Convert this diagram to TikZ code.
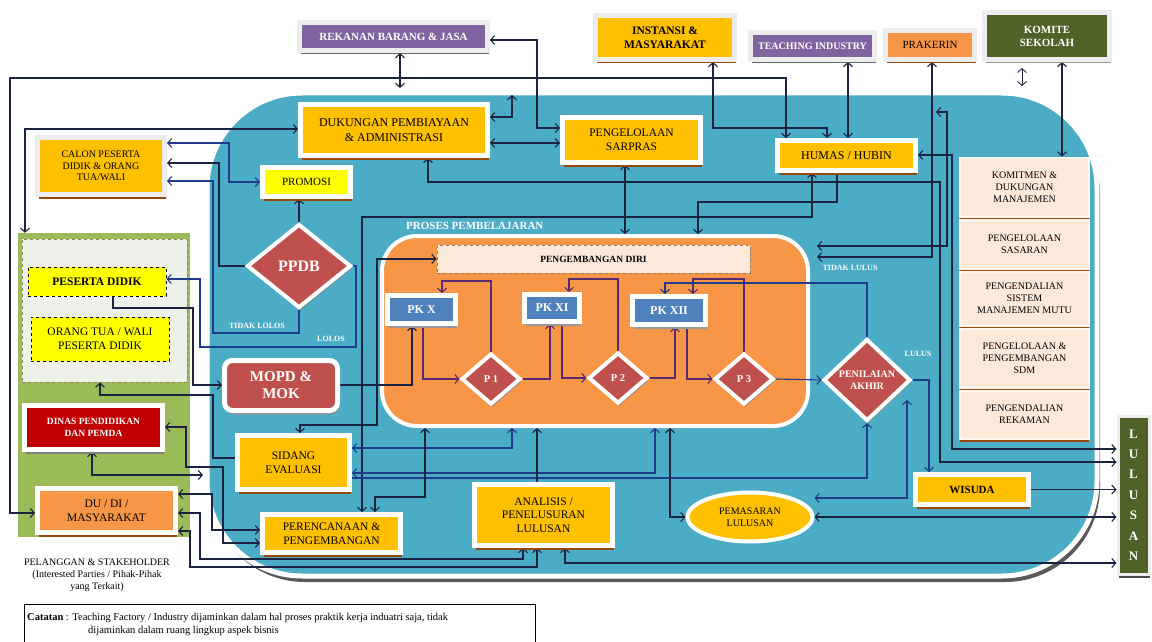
\documentclass[tikz,border=0pt]{standalone}
\usepackage{fontspec}
\setmainfont{Liberation Serif}
\usetikzlibrary{arrows.meta,shapes.geometric,shadows}
\definecolor{bluereg}{HTML}{4BACC6}
\definecolor{orreg}{HTML}{F79646}
\definecolor{ybox}{HTML}{FFC000}
\definecolor{yel}{HTML}{FFFF00}
\definecolor{redd}{HTML}{C0504D}
\definecolor{purp}{HTML}{8064A2}
\definecolor{gpan}{HTML}{9BBB59}
\definecolor{olive}{HTML}{4F6228}
\definecolor{dred}{HTML}{C00000}
\definecolor{pkb}{HTML}{4F81BD}
\definecolor{peach}{HTML}{FDE9D9}
\definecolor{pale}{HTML}{EEF0EA}
\definecolor{shad}{HTML}{984807}
\definecolor{dashc}{HTML}{948A54}
\definecolor{lnc}{HTML}{1C2340}
\definecolor{lnb}{HTML}{1F3C8C}
\definecolor{lnp}{HTML}{5A2A70}
\definecolor{frm}{HTML}{EDEDED}
\newcommand\fz[2]{\fontsize{#1}{#2}\selectfont}
\pgfdeclarelayer{back}
\pgfdeclarelayer{mid}
\pgfsetlayers{back,mid,main}
\begin{document}
\begin{tikzpicture}[x=1pt,y=-1pt,
  bx/.style={draw=white, line width=5pt, fill=#1, align=center, inner sep=1pt, text=black},
  gf/.style={draw=frm},
  sh/.style={drop shadow={shadow xshift=1pt, shadow yshift=-4pt, fill=#1, opacity=1}},
  sh/.default=shad,
  sz/.style 2 args={minimum width=#1pt, minimum height=#2pt},
  dia/.style={diamond, draw=white, line width=4pt, fill=redd, inner sep=0pt, text=white, align=center,
    drop shadow={shadow xshift=1pt, shadow yshift=-3pt, fill=black!45, opacity=1}},
  colb/.style={fill=peach, draw=white!60!peach, line width=2pt, align=center, inner sep=1pt,
    minimum width=129pt, font=\fz{10}{12},
    drop shadow={shadow xshift=0pt, shadow yshift=-3pt, fill=shad, opacity=1}},
  lbl/.style={text=white, font=\fz{8}{9}\bfseries, inner sep=0pt},
  ln/.style={draw=lnc, line width=1.1pt},
  lb/.style={draw=lnb, line width=1.1pt},
  lp/.style={draw=lnp, line width=1.1pt},
  a1/.style={-{Straight Barb[length=4pt,width=9pt]}},
  a2/.style={{Straight Barb[length=4pt,width=9pt]}-{Straight Barb[length=4pt,width=9pt]}},
]
\useasboundingbox (0,0) rectangle (1152,642);
\begin{pgfonlayer}{back}
\fill[white] (0,0) rectangle (1152,642);
\fill[black!65, rounded corners=95pt] (210,99) rectangle (1100,582);
\filldraw[fill=bluereg, draw=white, line width=5pt, rounded corners=95pt] (207,93) rectangle (1097,576);
\node[fill=gpan, sz={172}{304}, inner sep=0pt] (gp) at (104,385) {};
\node[fill=pale, draw=dashc, dashed, line width=1pt, sz={165}{143}, inner sep=0pt] (dsh) at (104.5,310.5) {};
\node[fill=orreg, draw=white, line width=4pt, rounded corners=35pt, sz={426}{190}, inner sep=0pt] (orange) at (595,331) {};
\end{pgfonlayer}

% top row
\node[bx=purp, gf, sh=black!60, sz={188}{28}, text=white, font=\fz{11}{13}\bfseries] (rk) at (393.5,36.5) {REKANAN BARANG \& JASA};
\node[bx=ybox, gf, sh, sz={139}{44}, font=\fz{11.5}{13.5}\bfseries] (ins) at (665,37.5) {INSTANSI \&\\MASYARAKAT};
\node[bx=purp, gf, sh=black!60, sz={124}{27}, text=white, font=\fz{10}{12}\bfseries] (ti) at (812.5,46) {TEACHING INDUSTRY};
\node[bx=orreg, gf, sh, sz={89}{29}, font=\fz{11}{13}] (pk) at (930,45) {PRAKERIN};
\node[bx=olive, gf, sh=black!40, sz={125}{47}, text=white, font=\fz{11}{13}\bfseries] (km) at (1047,36) {KOMITE\\SEKOLAH};

% upper blue area
\node[bx=ybox, sh, sz={187}{51}, font=\fz{12}{15}] (dk) at (394,130) {DUKUNGAN PEMBIAYAAN\\\& ADMINISTRASI};
\node[bx=ybox, sh, sz={138}{45}, font=\fz{11.5}{14}] (sp) at (631.5,140) {PENGELOLAAN\\SARPRAS};
\node[bx=ybox, sh, sz={138}{30}, font=\fz{12}{14}] (hm) at (846.5,155.5) {HUMAS / HUBIN};
\node[bx=ybox, gf, sh, sz={127}{57}, font=\fz{10}{11.7}] (cl) at (101,166) {CALON PESERTA\\DIDIK \& ORANG\\TUA/WALI};
\node[bx=yel, sh, sz={88}{29}, font=\fz{11}{13}] (pr) at (306.5,182) {PROMOSI};
\node[dia, minimum width=104pt, minimum height=84pt, font=\fz{16}{18}\bfseries] (ppdb) at (299,266) {PPDB};

% left panel
\node[draw=black, dashed, line width=0.9pt, fill=yel, sz={138}{29}, font=\fz{11.5}{13}\bfseries] (pd) at (97,281.5) {PESERTA DIDIK};
\node[draw=black, dashed, line width=0.9pt, fill=yel, sz={138}{44}, align=center, font=\fz{11.5}{14}] (ot) at (100,339) {ORANG TUA / WALI\\PESERTA DIDIK};
\node[bx=dred, sh=black!50, sz={138}{44}, text=white, font=\fz{9.5}{12}\bfseries] (dn) at (93.5,427.5) {DINAS PENDIDIKAN\\DAN PEMDA};
\node[bx=orreg, sh, sz={138}{44}, font=\fz{11.5}{14}] (du) at (106.5,510.5) {DU / DI /\\MASYARAKAT};

% middle
\node[bx=redd, rounded corners=8pt, sh=black!45, sz={113}{50}, text=white, font=\fz{15}{17}\bfseries] (mopd) at (281,385.5) {MOPD \&\\MOK};
\node[bx=ybox, sh, sz={112}{54}, font=\fz{11.5}{14}] (se) at (293.5,462.5) {SIDANG\\EVALUASI};
\node[bx=ybox, sh, sz={138}{38}, font=\fz{11.5}{13.5}] (pp) at (331.5,533.5) {PERENCANAAN \&\\PENGEMBANGAN};
\node[bx=ybox, sh, sz={138}{61}, font=\fz{11.5}{13.5}] (an) at (543.5,515) {ANALISIS /\\PENELUSURAN\\LULUSAN};
\node[bx=ybox, ellipse, line width=4pt, sz={125}{49}, inner sep=0pt, font=\fz{10}{12}] (pm) at (750,517) {PEMASARAN\\LULUSAN};
\node[bx=ybox, sh, sz={113}{30}, font=\fz{11}{13}\bfseries] (ws) at (972,489.5) {WISUDA};
\node[dia, minimum width=87pt, minimum height=82pt, font=\fz{10}{11.5}\bfseries] (pa) at (867,380) {PENILAIAN\\AKHIR};

% proses pembelajaran
\node[text=white, font=\fz{11}{13}\bfseries, anchor=west, inner sep=0pt] (ppl) at (406,226) {PROSES PEMBELAJARAN};
\node[draw=gray, dashed, line width=1pt, fill=peach, sz={313}{28}, font=\fz{9.5}{11}\bfseries] (pdiri) at (593.5,259) {PENGEMBANGAN DIRI};
\node[bx=pkb, sh=black!40, sz={68}{28}, text=white, font=\fz{12}{14}\bfseries] (pkx) at (421.5,309.5) {PK X};
\node[bx=pkb, sh=black!40, sz={55}{27}, text=white, font=\fz{12}{14}\bfseries] (pkxi) at (552,308) {PK XI};
\node[bx=pkb, sh=black!40, sz={73}{28}, text=white, font=\fz{12}{14}\bfseries] (pkxii) at (669,310.5) {PK XII};
\node[dia, minimum width=59pt, minimum height=51pt, font=\fz{10.5}{12}\bfseries] (p1) at (491,379) {P 1};
\node[dia, minimum width=59pt, minimum height=51pt, font=\fz{10.5}{12}\bfseries] (p2) at (618,378) {P 2};
\node[dia, minimum width=59pt, minimum height=51pt, font=\fz{10.5}{12}\bfseries] (p3) at (744,379) {P 3};

% right column
\node[colb, minimum height=59pt] (c1) at (1024.5,187) {KOMITMEN \&\\DUKUNGAN\\MANAJEMEN};
\node[colb, minimum height=49pt] (c2) at (1024.5,244) {PENGELOLAAN\\SASARAN};
\node[colb, minimum height=54pt] (c3) at (1024.5,298.5) {PENGENDALIAN\\SISTEM\\MANAJEMEN MUTU};
\node[colb, minimum height=59pt] (c4) at (1024.5,358) {PENGELOLAAN \&\\PENGEMBANGAN\\SDM};
\node[colb, minimum height=48pt] (c5) at (1024.5,414.5) {PENGENDALIAN\\REKAMAN};
\node[bx=olive, gf, line width=3pt, sh=black!70, sz={31}{158}, text=white, font=\fz{13}{20.4}\bfseries] (lul) at (1133.5,495) {L\\U\\L\\U\\S\\A\\N};

% labels
\node[lbl] (tlo) at (257,326) {TIDAK LOLOS};
\node[lbl] (lo) at (331,339) {LOLOS};
\node[lbl] (tlu) at (850,268) {TIDAK LULUS};
\node[lbl] (lu) at (918,354) {LULUS};
\node[align=center, font=\fz{10}{12}, inner sep=0pt] (plg) at (97,575) {PELANGGAN \& STAKEHOLDER\\(Interested Parties / Pihak-Pihak\\yang Terkait)};
\node[draw=black, line width=0.9pt, sz={511}{38}, anchor=north west, inner sep=0pt] (cat) at (23.5,603.5) {};
\node[anchor=base west, inner sep=0pt, font=\fz{10.5}{12}] (cat1) at (27,620) {\textbf{Catatan} : Teaching Factory / Industry dijaminkan dalam hal proses praktik kerja induatri saja, tidak};
\node[anchor=base west, inner sep=0pt, font=\fz{10.5}{12}] (cat2) at (88,633) {dijaminkan dalam ruang lingkup aspek bisnis};

% free ends
\coordinate (e1) at (400,88);
\coordinate (e2) at (512,95);
\coordinate (e3) at (817,257);
\coordinate (e4) at (817,246);
\coordinate (e5) at (936,112);
\coordinate (e6) at (1022,68);
\coordinate (e7) at (1022,86);
\coordinate (e8) at (907,400);
\coordinate (e9) at (203,475);

\begin{pgfonlayer}{mid}
% outer frame and top
\draw[ln,a2] (du.west |- 0,513) -- (10,513) -- (10,78) -- (786,78) -- (hm.north -| 786,0);
\draw[ln,a2] (rk.south -| e1) -- (e1);
\draw[ln,a2] (rk.east |- 0,40) -- (537,40) -- (537,128) -- (sp.west |- 0,128);
\draw[ln,a2] (dk.east |- 0,143) -- (sp.west |- 0,143);
\draw[ln,a2] (dk.east |- 0,117) -- (512,117) -- (e2);
\draw[ln,a2] (dk.west |- 0,129) -- (25,129) -- (gp.north -| 25,0);
\draw[ln,a2] (ins.south -| 713,0) -- (713,128) -- (827,128) -- (hm.north -| 827,0);
\draw[ln,a2] (ti.south -| 848,0) -- (hm.north -| 848,0);
\draw[ln,a2] (pk.south -| 932,0) -- (932,257) -- (e3);
\draw[ln,a2] (e4) -- (947,246) -- (947,112) -- (e5);
\draw[ln,a2] (hm.east |- 0,155) -- (952,155) -- (952,449) -- (lul.west |- 0,449);
\draw[ln,a2] (km.south -| 1062,0) -- (c1.north -| 1062,0);
\draw[ln,a2,line width=0.8pt] (e6) -- (e7);
% calon / ppdb
\draw[lb,a2] (cl.east |- 0,143) -- (229,143) -- (229,182) -- (pr.west);
\draw[ln,a1] (ppdb.west) -- (219,266) -- (219,163) -- (cl.east |- 0,163);
\draw[lb,a1] (ppdb.south) -- (299,333) -- (213,333) -- (213,181) -- (cl.east |- 0,181);
\draw[ln,a1] (ppdb.north) -- (pr.south -| ppdb.north);
\draw[lb,a1] (ppdb.east) -- (356,266) -- (356,347) -- (200,347) -- (200,279) -- (pd.east |- 0,279);
\draw[ln,a1] (pd.south -| 113,0) -- (113,308) -- (193,308) -- (193,385) -- (mopd.west |- 0,385);
\draw[ln,a1] (se.west |- 0,458) -- (213,458) -- (213,395) -- (100,395) -- (dsh.south -| 100,0);
\draw[ln,a1] (mopd.east |- 0,385) -- (412,385) -- (pkx.south -| 412,0);
\draw[ln,a2] (pdiri.west) -- (377,259) -- (377,425) -- (300,425) -- (se.north -| 300,0);
% humas / dukungan long lines
\draw[ln,a2] (hm.south -| 812,0) -- (812,217) -- (362,217) -- (pp.north -| 362,0);
\draw[ln,a1] (hm.south -| 837,0) -- (837,202) -- (698,202) -- (orange.north -| 698,0);
\draw[ln,a2] (sp.south -| 625,0) -- (orange.north -| 625,0);
\draw[ln,a2] (dk.south -| 428,0) -- (428,182) -- (940,182) -- (940,462) -- (lul.west |- 0,462);
% inner loop
\draw[lp,a1] (pkx.south -| 423,0) -- (423,379) -- (p1.west);
\draw[lp,a1] (p1.east) -- (550,379) -- (pkxi.south -| 550,0);
\draw[lp,a1] (p1.north) -- (491,281) -- (442,281) -- (pkx.north -| 442,0);
\draw[lp,a1] (pkxi.south -| 562,0) -- (562,378) -- (p2.west);
\draw[lp,a1] (p2.east) -- (675,378) -- (pkxii.south -| 675,0);
\draw[lp,a1] (p2.north) -- (618,279) -- (569,279) -- (pkxi.north -| 569,0);
\draw[lp,a1] (pkxii.south -| 687,0) -- (687,379) -- (p3.west);
\draw[lp,a1] (p3.north) -- (744,279) -- (693,279) -- (pkxii.north -| 693,0);
\draw[lb,a1] (pa.north) -- (867,283) -- (665,283) -- (pkxii.north -| 665,0);
\draw[lb,a1] (p3.east) -- (pa.west);
% bottom
\draw[lb,a2] (se.east |- 0,448) -- (512,448) -- (orange.south -| 512,0);
\draw[lb,a2] (se.east |- 0,473) -- (655,473) -- (orange.south -| 655,0);
\draw[lb,a1] (se.east |- 0,478) -- (867,478) -- (pa.south);
\draw[ln,a2] (pp.north -| 375,0) -- (375,497) -- (425,497) -- (orange.south -| 425,0);
\draw[ln,a1] (an.north -| 537,0) -- (orange.south -| 537,0);
\draw[ln,a2] (orange.south -| 670,0) -- (670,517) -- (pm.west);
\draw[lb,a2] (e8) -- (907,498) -- (pm.east |- 0,498);
\draw[ln,a2] (pm.east) -- (lul.west |- pm.east);
\draw[ln,a1] (ws.east) -- (lul.west |- ws.east);
\draw[lb,a1] (pa.east) -- (929,380) -- (ws.north -| 929,0);
\draw[ln,a2] (lul.west |- 0,563) -- (565,563) -- (an.south -| 565,0);
\draw[ln,a2] (du.east |- 0,494) -- (212,494) -- (212,530) -- (pp.west |- 0,530);
\draw[ln,a2] (du.east |- 0,513) -- (200,513) -- (200,559) -- (523,559) -- (an.south -| 523,0);
\draw[ln,a2] (du.east |- 0,531) -- (190,531) -- (190,567) -- (537,567) -- (an.south -| 537,0);
\draw[ln,a2] (dn.east |- 0,427) -- (186,427) -- (186,467) -- (223,467) -- (223,543) -- (pp.west |- 0,543);
\draw[ln,a2] (dn.south -| 92,0) -- (92,475) -- (e9);
\end{pgfonlayer}
\end{tikzpicture}
\end{document}
